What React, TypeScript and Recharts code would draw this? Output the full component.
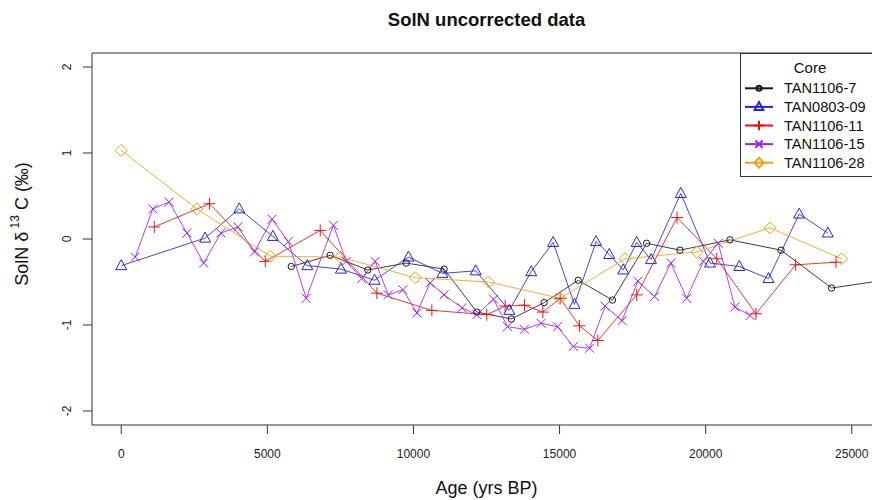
import { Customized, Line, LineChart, ReferenceArea, XAxis, YAxis } from "recharts";

// the reference is drawn edge to edge, so drop the default body margin
document.body.style.margin = "0";

// TAN1106-7
const core7Age = [5820, 7150, 8440, 9750, 11050, 12170, 13350, 14470, 15640, 16810, 17980, 19120, 20830, 22580, 24310, 27500];
const core7Val = [-0.32, -0.19, -0.36, -0.28, -0.35, -0.85, -0.93, -0.74, -0.48, -0.71, -0.05, -0.13, -0.01, -0.13, -0.57, -0.41];
// TAN0803-09
const core09Age = [0, 2870, 4040, 5190, 6370, 7520, 8670, 9830, 10990, 12130, 13280, 14030, 14780, 15510, 16250, 16700, 17180, 17640, 18130, 19150, 20150, 21150, 22150, 23200, 24180];
const core09Val = [-0.31, 0.01, 0.35, 0.03, -0.31, -0.35, -0.48, -0.21, -0.4, -0.37, -0.83, -0.38, -0.04, -0.76, -0.03, -0.18, -0.36, -0.04, -0.24, 0.53, -0.28, -0.32, -0.46, 0.29, 0.07];
// TAN1106-11
const core11Age = [1130, 3020, 4930, 6810, 8750, 10630, 12510, 13140, 13800, 14430, 15020, 15680, 16310, 17640, 19020, 20380, 21720, 23080, 24460];
const core11Val = [0.14, 0.41, -0.26, 0.1, -0.63, -0.83, -0.88, -0.78, -0.77, -0.85, -0.69, -1.01, -1.18, -0.65, 0.25, -0.23, -0.87, -0.3, -0.27];
// TAN1106-15
const core15Age = [480, 1080, 1640, 2250, 2820, 3410, 3990, 4560, 5160, 5720, 6330, 7260, 7700, 8230, 8690, 9140, 9640, 10120, 10570, 11050, 11660, 12170, 12740, 13220, 13800, 14370, 14930, 15470, 16030, 16560, 17140, 17680, 18250, 18810, 19350, 19920, 20430, 21000, 21520];
const core15Val = [-0.21, 0.35, 0.43, 0.07, -0.28, 0.07, 0.14, -0.15, 0.23, -0.03, -0.69, 0.16, -0.26, -0.46, -0.26, -0.65, -0.59, -0.86, -0.51, -0.65, -0.8, -0.88, -0.7, -1.02, -1.05, -0.98, -1.02, -1.25, -1.27, -0.78, -0.95, -0.49, -0.67, -0.28, -0.69, -0.26, -0.05, -0.79, -0.89];
// TAN1106-28
const core28Age = [0, 2590, 5100, 7490, 10060, 12570, 15020, 17240, 19700, 22200, 24650];
const core28Val = [1.03, 0.35, -0.2, -0.21, -0.45, -0.5, -0.69, -0.23, -0.15, 0.13, -0.23];

const xTicks = [0, 5000, 10000, 15000, 20000, 25000];
const yTicks = [-2, -1, 0, 1, 2];

const toRows = (ages: number[], vals: number[]) => ages.map((age, i) => ({ age, d13c: vals[i] }));

type Shape = "circle" | "triangle" | "plus" | "cross" | "diamond";

const series: { name: string; color: string; shape: Shape; data: { age: number; d13c: number }[] }[] = [
  { name: "TAN1106-7", color: "#1a1a1a", shape: "circle", data: toRows(core7Age, core7Val) },
  { name: "TAN0803-09", color: "#2424d8", shape: "triangle", data: toRows(core09Age, core09Val) },
  { name: "TAN1106-11", color: "#e81414", shape: "plus", data: toRows(core11Age, core11Val) },
  { name: "TAN1106-15", color: "#a020f0", shape: "cross", data: toRows(core15Age, core15Val) },
  { name: "TAN1106-28", color: "#eaa316", shape: "diamond", data: toRows(core28Age, core28Val) },
];

const font = "'Liberation Sans', Arial, sans-serif";

function Marker({ shape, cx, cy, color, s = 1, w = 1 }: { shape: Shape; cx: number; cy: number; color: string; s?: number; w?: number }) {
  const p = { fill: "none", stroke: color, strokeWidth: w };
  if (shape === "circle") return <circle cx={cx} cy={cy} r={3.2 * s} {...p} />;
  if (shape === "triangle")
    return <path d={`M${cx},${cy - 6 * s}L${cx - 5.5 * s},${cy + 4 * s}L${cx + 5.5 * s},${cy + 4 * s}Z`} {...p} />;
  if (shape === "plus") return <path d={`M${cx - 6 * s},${cy}H${cx + 6 * s}M${cx},${cy - 6 * s}V${cy + 6 * s}`} {...p} />;
  if (shape === "cross")
    return <path d={`M${cx - 4.5 * s},${cy - 4.5 * s}L${cx + 4.5 * s},${cy + 4.5 * s}M${cx - 4.5 * s},${cy + 4.5 * s}L${cx + 4.5 * s},${cy - 4.5 * s}`} {...p} />;
  return <path d={`M${cx},${cy - 6 * s}L${cx + 6 * s},${cy}L${cx},${cy + 6 * s}L${cx - 6 * s},${cy}Z`} {...p} />;
}

const dotFor = (shape: Shape, color: string) => (props: any) =>
  <g key={`d-${props.index}`}>{props.cx == null ? null : <Marker shape={shape} cx={props.cx} cy={props.cy} color={color} />}</g>;

function YTick({ x, y, payload }: any) {
  const cx = x - 14;
  return (
    <text x={cx} y={y} transform={`rotate(-90, ${cx}, ${y})`} textAnchor="middle" dominantBaseline="central" fontSize={12} fill="#222" fontFamily={font}>
      {payload.value}
    </text>
  );
}

function Annotations() {
  return (
    <g fontFamily={font} fill="#111">
      <text x={486.5} y={26} textAnchor="middle" fontWeight="bold" fontSize={18.5}>SolN uncorrected data</text>
      <text transform="rotate(-90)" x={-224} y={22} textAnchor="middle" dominantBaseline="central" fontSize={18}>
        SolN δ<tspan dy={-7} fontSize={12}> 13</tspan><tspan dy={7}> C (‰)</tspan>
      </text>
    </g>
  );
}

function LegendBox() {
  const rows = [35.3, 53.9, 72.5, 91.1, 109.7];
  return (
    <svg width={141} height={124} style={{ position: "absolute", left: 740, top: 53, overflow: "visible" }}>
      <rect x={0.5} y={0.5} width={140} height={123} fill="#fff" stroke="#333" strokeWidth={1} />
      <text x={70} y={14} textAnchor="middle" dominantBaseline="central" fontSize={15} fontFamily={font} fill="#111">Core</text>
      {series.map((s, i) => (
        <g key={s.name}>
          <line x1={5} x2={33} y1={rows[i]} y2={rows[i]} stroke={s.color} strokeWidth={2} />
          <Marker shape={s.shape} cx={19} cy={rows[i]} color={s.color} s={0.8} w={2} />
          <text x={44} y={rows[i]} dominantBaseline="central" fontSize={14.6} fontFamily={font} fill="#111">{s.name}</text>
        </g>
      ))}
    </svg>
  );
}

export default function App() {
  return (
    <div style={{ position: "relative", width: 872, height: 500, overflow: "hidden", background: "#fff" }}>
      <LineChart width={900} height={500} margin={{ top: 53, right: 19, left: 0, bottom: 0 }}>
        <XAxis
          type="number"
          dataKey="age"
          domain={[-1000, 26000]}
          allowDataOverflow
          ticks={xTicks}
          axisLine={false}
          tickLine={{ stroke: "#333" }}
          tickSize={9}
          tickMargin={15}
          height={75}
          tick={{ fontSize: 12, fill: "#222", fontFamily: font }}
          label={{ value: "Age (yrs BP)", position: "insideBottom", offset: 6, fontSize: 18, fill: "#111", fontFamily: font }}
        />
        <YAxis
          type="number"
          domain={[-2.163, 2.163]}
          allowDataOverflow
          ticks={yTicks}
          axisLine={false}
          tickLine={{ stroke: "#333" }}
          tickSize={9}
          width={92}
          tick={<YTick />}
        />
        <ReferenceArea x1={-1000} x2={26000} y1={-2.163} y2={2.163} fill="none" stroke="#333" strokeWidth={1} ifOverflow="visible" />
        {series.map((s) => (
          <Line
            key={s.name}
            data={s.data}
            dataKey="d13c"
            name={s.name}
            stroke={s.color}
            strokeWidth={1}
            strokeOpacity={0.85}
            dot={dotFor(s.shape, s.color)}
            activeDot={false}
            isAnimationActive={false}
          />
        ))}
        <Customized component={Annotations} />
      </LineChart>
      <LegendBox />
    </div>
  );
}
